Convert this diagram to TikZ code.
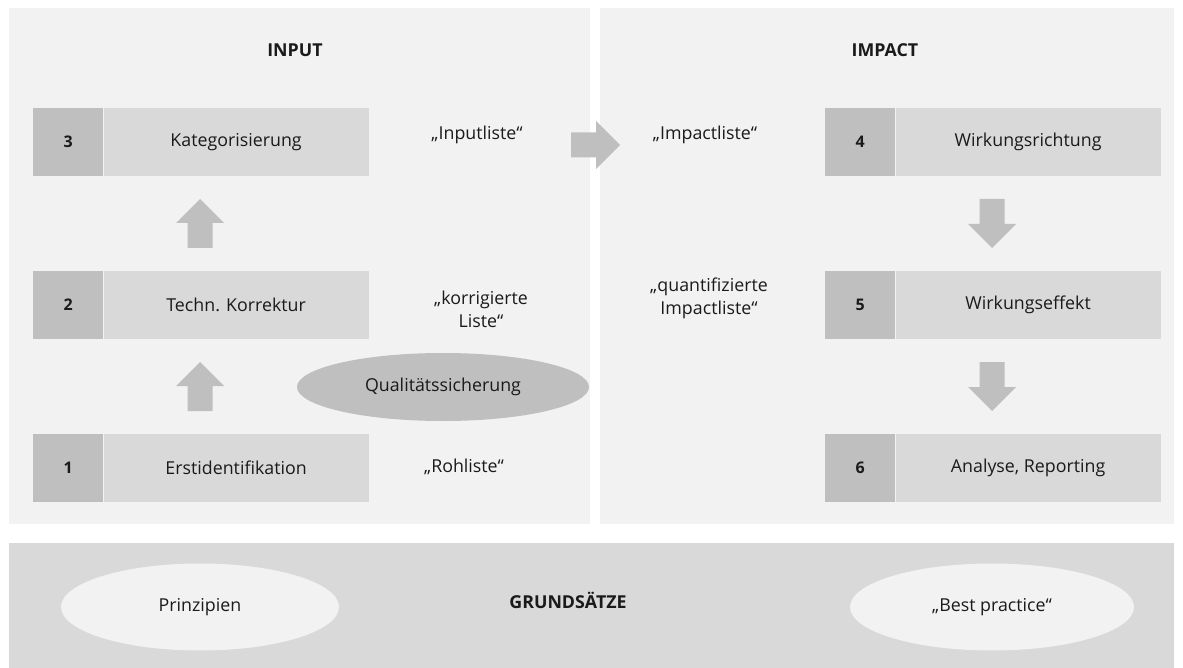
\documentclass[tikz,border=0pt]{standalone}
\usepackage{fontspec}
\setmainfont{Open Sans}
\usetikzlibrary{calc,shapes.geometric}
\definecolor{panel}{HTML}{F2F2F2}
\definecolor{light}{HTML}{D9D9D9}
\definecolor{mid}{HTML}{BFBFBF}
\definecolor{ink}{HTML}{1A1A1A}
\newcommand\bodysize{\fontsize{17.8}{23}\selectfont}
\tikzset{
  txt/.style={text=ink, inner sep=0pt, align=center, font=\bodysize},
  title/.style={txt, font=\bfseries\bodysize},
  numbox/.style={fill=mid, minimum width=70pt, minimum height=68pt, inner sep=0pt, anchor=north west,
                 text=ink, font=\bfseries\fontsize{16}{20}\selectfont},
  labbox/.style={fill=light, minimum width=265pt, minimum height=68pt, inner sep=0pt, anchor=west,
                 text=ink, font=\bodysize},
  oval/.style={ellipse, inner sep=0pt, text=ink, font=\bodysize},
  pics/blockarrow/.style={code={
    \fill[mid] (0,-12.5) -- (25,-12.5) -- (25,-24) -- (49,0) -- (25,24) -- (25,12.5) -- (0,12.5) -- cycle;}}
}
\begin{document}
\begin{tikzpicture}[x=1pt, y=-1pt]
  \useasboundingbox (0,0) rectangle (1183,668);
  % panels
  \fill[panel] (9,8) rectangle (590,524);
  \fill[panel] (600,8) rectangle (1174,524);
  \fill[light] (9,543) rectangle (1174,668);

  % headings
  \node[title] (input) at (295,50) {INPUT};
  \node[title] (impact) at (885,50) {IMPACT};
  \node[title] (grund) at (568,600) {GRUNDSÄTZE};

  % input steps
  \node[numbox] (n3) at (33,108) {3};
  \node[labbox] (s3) at (n3.east) {Kategorisierung};
  \node[numbox] (n2) at (33,271) {2};
  \node[labbox] (s2) at (n2.east) {Techn. Korrektur};
  \node[numbox] (n1) at (33,434) {1};
  \node[labbox] (s1) at (n1.east) {Erstidentifikation};

  % impact steps
  \node[numbox] (n4) at (825,108) {4};
  \node[labbox] (s4) at (n4.east) {Wirkungsrichtung};
  \node[numbox] (n5) at (825,271) {5};
  \node[labbox] (s5) at (n5.east) {Wirkungseffekt};
  \node[numbox] (n6) at (825,434) {6};
  \node[labbox] (s6) at (n6.east) {Analyse, Reporting};

  % list labels
  \node[txt] (l3) at (477,135) {„Inputliste“};
  \node[txt] (l2) at (481,309) {„korrigierte\\Liste“};
  \node[txt] (l1) at (464,467) {„Rohliste“};
  \node[txt] (l4) at (705,135) {„Impactliste“};
  \node[txt] (l5) at (709,298) {„quantifizierte\\Impactliste“};

  % quality assurance
  \node[oval, fill=mid, minimum width=292pt, minimum height=68pt] (qs) at (443,387) {Qualitätssicherung};

  % block arrows
  \pic[rotate=90] at (200,248) {blockarrow};
  \pic[rotate=90] at (200,411) {blockarrow};
  \pic[rotate=-90] at (992,199) {blockarrow};
  \pic[rotate=-90] at (992,362) {blockarrow};
  \pic at (571,145) {blockarrow};

  % principles
  \node[oval, fill=panel, minimum width=278pt, minimum height=87pt] (pr) at (200,607) {Prinzipien};
  \node[oval, fill=panel, minimum width=284pt, minimum height=87pt] (bp) at (992,607) {„Best practice“};
\end{tikzpicture}
\end{document}
